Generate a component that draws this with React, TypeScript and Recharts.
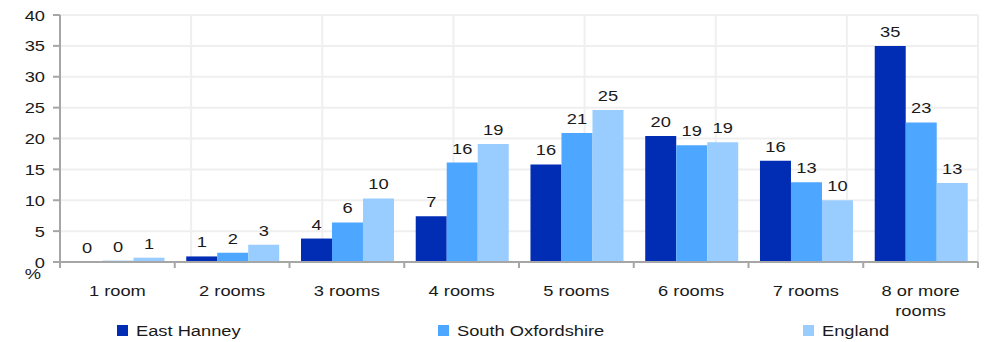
import React from 'react';
import { BarChart, Bar, XAxis, YAxis, CartesianGrid, LabelList, Legend } from 'recharts';

const categories = ['1 room', '2 rooms', '3 rooms', '4 rooms', '5 rooms', '6 rooms', '7 rooms', '8 or more rooms'];
const eastHanney = [0, 0.9, 3.8, 7.4, 15.8, 20.4, 16.4, 35.0];
const southOxfordshire = [0.2, 1.5, 6.4, 16.1, 20.9, 18.9, 12.9, 22.6];
const england = [0.7, 2.8, 10.3, 19.1, 24.6, 19.4, 10.0, 12.8];
const seriesNames = ['East Hanney', 'South Oxfordshire', 'England'];
const seriesKeys = ['eh', 'so', 'en'];
const seriesColors = ['#002DB3', '#4DA6FF', '#99CCFF'];
const yTicks = [0, 5, 10, 15, 20, 25, 30, 35, 40];
const gridTicks = [0, 1, 2, 3, 4, 5, 6, 7, 8];

const data = categories.map((c, i) => ({
  name: c,
  eh: eastHanney[i],
  so: southOxfordshire[i],
  en: england[i],
}));

const FONT = '"Liberation Sans", Arial, sans-serif';
const AXIS = '#A6A6A6';
const FS = 15.5;
const SX = 1.18;
const TXT = '#1A1A1A';

const SText = ({ x, y, anchor = 'start', children }: any) => (
  <text
    transform={`translate(${x},${y}) scale(${SX},1)`}
    x={0}
    y={0}
    textAnchor={anchor}
    fontSize={FS}
    fontFamily={FONT}
    fill={TXT}
  >
    {children}
  </text>
);

const splitLabel = (s: string): string[] => {
  if (s === '8 or more rooms') return ['8 or more', 'rooms'];
  return [s];
};

const CatTick = (props: any) => {
  const { x, y, payload, index } = props;
  const off = payload && typeof payload.offset === 'number' ? payload.offset : 0;
  const lines = splitLabel(String(payload.value));
  const last = index === categories.length - 1;
  return (
    <g>
      <line x1={x - off} x2={x - off} y1={y} y2={y + 6} stroke={AXIS} strokeWidth={2} />
      {last && <line x1={x + off} x2={x + off} y1={y} y2={y + 6} stroke={AXIS} strokeWidth={2} />}
      {lines.map((l, i) => (
        <SText key={i} x={x} y={y + 34 + i * 20} anchor="middle">{l}</SText>
      ))}
    </g>
  );
};

const YTick = (props: any) => {
  const { x, y, payload } = props;
  return <SText x={x} y={y + 5.5} anchor="end">{payload.value}</SText>;
};

const legendX = [117, 438, 803];

const LegendContent = () => (
  <svg width={986} height={24} style={{ display: 'block' }}>
    {seriesNames.map((n, i) => (
      <g key={n}>
        <rect x={legendX[i]} y={7} width={11} height={11} fill={seriesColors[i]} />
        <SText x={legendX[i] + 19} y={18}>{n}</SText>
      </g>
    ))}
  </svg>
);

const PercentLabel = (props: any) => {
  const vb = props.viewBox || {};
  return (
    <SText x={(vb.x || 0) + 33} y={(vb.y || 0) + (vb.height || 0) + 17} anchor="middle">%</SText>
  );
};

const BarLabel = (props: any) => {
  const { x, y, width, value } = props;
  if (x == null || y == null) return null;
  return (
    <SText x={Number(x) + Number(width) / 2} y={Number(y) - 9} anchor="middle">
      {String(Math.round(Number(value)))}
    </SText>
  );
};

export default function App() {
  return (
    <div style={{ position: 'absolute', left: 0, top: 0, width: 986, height: 342, background: '#fff' }}>
      <BarChart
        width={986}
        height={342}
        data={data}
        margin={{ top: 15, right: 8, bottom: 0, left: 0 }}
        barCategoryGap="10%"
        barGap={0}
      >
        <CartesianGrid xAxisId="grid" stroke="#EFEFEF" strokeWidth={2} vertical horizontal />
        <XAxis xAxisId="grid" type="number" domain={[0, 8]} ticks={gridTicks} hide allowDataOverflow />
        <XAxis
          xAxisId="cat"
          dataKey="name"
          type="category"
          height={56}
          tickLine={false}
          tickSize={0}
          tickMargin={0}
          axisLine={{ stroke: AXIS, strokeWidth: 2 }}
          tick={<CatTick />}
          interval={0}
        />
        <YAxis
          width={60}
          domain={[0, 40]}
          ticks={yTicks}
          interval={0}
          tickSize={7}
          tickMargin={8}
          tickLine={{ stroke: AXIS, strokeWidth: 2 }}
          axisLine={{ stroke: AXIS, strokeWidth: 2 }}
          tick={<YTick />}
          label={<PercentLabel />}
        />
        <Legend
          verticalAlign="bottom"
          content={<LegendContent />}
          wrapperStyle={{ left: 0, width: 986, height: 24 }}
        />
        {seriesKeys.map((k, i) => (
          <Bar
            key={k}
            xAxisId="cat"
            dataKey={k}
            name={seriesNames[i]}
            fill={seriesColors[i]}
            minPointSize={0.01}
            isAnimationActive={false}
          >
            <LabelList dataKey={k} content={<BarLabel />} />
          </Bar>
        ))}
      </BarChart>
    </div>
  );
}
